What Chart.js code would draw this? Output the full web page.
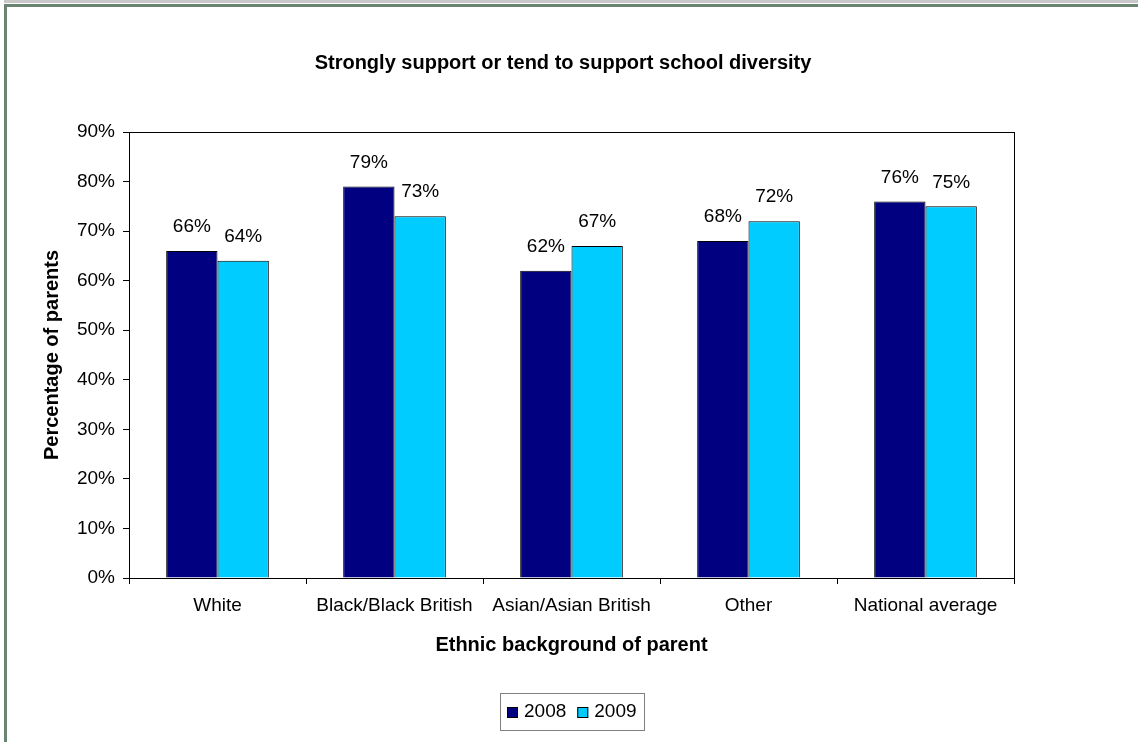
<!DOCTYPE html>
<html>
<head>
<meta charset="utf-8">
<script src="https://cdn.jsdelivr.net/npm/chart.js@4.4.1/dist/chart.umd.min.js"></script>
<style>
  html, body { margin: 0; padding: 0; background: #fff; }
  #wrap { position: relative; width: 1138px; height: 742px; }
</style>
</head>
<body>
<div id="wrap"><canvas id="myChart" width="1138" height="742"></canvas></div>
<script>
// data
const categories = ['White', 'Black/Black British', 'Asian/Asian British', 'Other', 'National average'];
const seriesNames = ['2008', '2009'];
const values2008 = [66, 79, 62, 68, 76];
const values2009 = [64, 73, 67, 72, 75];
const yTickValues = [0, 10, 20, 30, 40, 50, 60, 70, 80, 90];
const chartTitle = 'Strongly support or tend to support school diversity';

const FONT = "'Liberation Sans', Arial, sans-serif";
const colors = ['#000080', '#00ccff'];

// window frame: grey strip on top, green-grey border left/top
const framePlugin = {
  id: 'frame',
  beforeDraw(chart) {
    const ctx = chart.ctx;
    ctx.save();
    ctx.fillStyle = '#ffffff';
    ctx.fillRect(0, 0, chart.width, chart.height);
    ctx.fillStyle = '#c8c8c8';
    ctx.fillRect(4, 0, chart.width - 4, 3);
    ctx.fillStyle = '#6a8472';
    ctx.fillRect(4, 4, chart.width - 4, 3);
    ctx.fillRect(4, 4, 3, chart.height - 4);
    ctx.restore();
  }
};

// title sits centred on the whole chart object, not the plot
const titlePlugin = {
  id: 'bigTitle',
  afterDraw(chart) {
    const ctx = chart.ctx;
    ctx.save();
    ctx.font = 'bold 20px ' + FONT;
    ctx.fillStyle = '#000';
    ctx.textAlign = 'center';
    ctx.textBaseline = 'middle';
    ctx.fillText(chartTitle, chart.width / 2 - 6, 63);
    ctx.restore();
  }
};

// black box round the plot area
const plotBox = {
  id: 'plotBox',
  afterDatasetsDraw(chart) {
    const a = chart.chartArea;
    const ctx = chart.ctx;
    ctx.save();
    ctx.strokeStyle = '#000';
    ctx.lineWidth = 1;
    ctx.strokeRect(Math.round(a.left) + 0.5, Math.round(a.top) + 0.5,
      Math.round(a.right - a.left), Math.round(a.bottom - a.top));
    ctx.restore();
  }
};

// % labels over each bar
const valueLabels = {
  id: 'valueLabels',
  afterDatasetsDraw(chart) {
    const ctx = chart.ctx;
    ctx.save();
    ctx.font = '19px ' + FONT;
    ctx.fillStyle = '#000';
    ctx.textAlign = 'center';
    ctx.textBaseline = 'middle';
    chart.data.datasets.forEach((ds, i) => {
      chart.getDatasetMeta(i).data.forEach((bar, j) => {
        ctx.fillText(ds.data[j] + '%', bar.x, bar.y - 24);
      });
    });
    ctx.restore();
  }
};

// boxed legend under the axis title
const boxLegend = {
  id: 'boxLegend',
  afterDraw(chart) {
    const ctx = chart.ctx;
    const a = chart.chartArea;
    ctx.save();
    ctx.font = '19px ' + FONT;
    const sq = 11, gap = 6, itemGap = 11, padX = 7;
    let total = padX * 2;
    chart.data.datasets.forEach((ds, i) => {
      total += sq + gap + ctx.measureText(ds.label).width + (i ? itemGap : 0);
    });
    const cx = (a.left + a.right) / 2;
    const left = Math.round(cx - total / 2);
    const top = 693, h = 37, cy = top + h / 2;
    ctx.strokeStyle = '#808080';
    ctx.lineWidth = 1;
    ctx.strokeRect(left + 0.5, top + 0.5, Math.round(total), h);
    let x = left + padX;
    ctx.textBaseline = 'middle';
    ctx.textAlign = 'left';
    chart.data.datasets.forEach((ds, i) => {
      if (i) x += itemGap;
      ctx.fillStyle = ds.backgroundColor;
      ctx.fillRect(x, Math.round(cy - sq / 2) + 1, sq, sq);
      ctx.strokeStyle = '#000';
      ctx.strokeRect(x + 0.5, Math.round(cy - sq / 2) + 1.5, sq - 1, sq - 1);
      x += sq + gap;
      ctx.fillStyle = '#000';
      ctx.fillText(ds.label, x, cy);
      x += ctx.measureText(ds.label).width;
    });
    ctx.restore();
  }
};

const ctx = document.getElementById('myChart').getContext('2d');
const myChart = new Chart(ctx, {
  type: 'bar',
  data: {
    labels: categories,
    datasets: [{
      label: seriesNames[0],
      data: values2008,
      backgroundColor: colors[0],
      borderColor: '#000',
      borderWidth: 1,
      categoryPercentage: 0.58,
      barPercentage: 1.0
    }, {
      label: seriesNames[1],
      data: values2009,
      backgroundColor: colors[1],
      borderColor: '#000',
      borderWidth: 1,
      categoryPercentage: 0.58,
      barPercentage: 1.0
    }]
  },
  options: {
    responsive: false,
    animation: false,
    layout: { padding: { left: 0, right: 124, top: 132, bottom: 80 } },
    plugins: {
      legend: { display: false },
      tooltip: { enabled: false },
      title: { display: false }
    },
    scales: {
      x: {
        grid: { drawOnChartArea: false, drawTicks: true, tickLength: 6, color: '#000', offset: true },
        border: { display: false },
        ticks: { color: '#000', font: { family: FONT, size: 19 }, padding: 10, maxRotation: 0 },
        title: {
          display: true,
          text: 'Ethnic background of parent',
          color: '#000',
          font: { family: FONT, size: 20, weight: 'bold' },
          padding: { top: 0, bottom: 5 }
        },
        afterFit(scale) { scale.height = 84; }
      },
      y: {
        min: 0,
        max: 90,
        afterBuildTicks(scale) { scale.ticks = yTickValues.map(v => ({ value: v })); },
        grid: { drawOnChartArea: false, drawTicks: true, tickLength: 6, color: '#000' },
        border: { display: false },
        ticks: { color: '#000', font: { family: FONT, size: 19 }, padding: 8, callback: v => v + '%' },
        title: {
          display: true,
          text: 'Percentage of parents',
          color: '#000',
          font: { family: FONT, size: 20, weight: 'bold' },
          padding: { top: 40, bottom: 0 }
        },
        afterFit(scale) { scale.width = 129; }
      }
    }
  },
  plugins: [framePlugin, plotBox, valueLabels, boxLegend, titlePlugin]
});
</script>
</body>
</html>
